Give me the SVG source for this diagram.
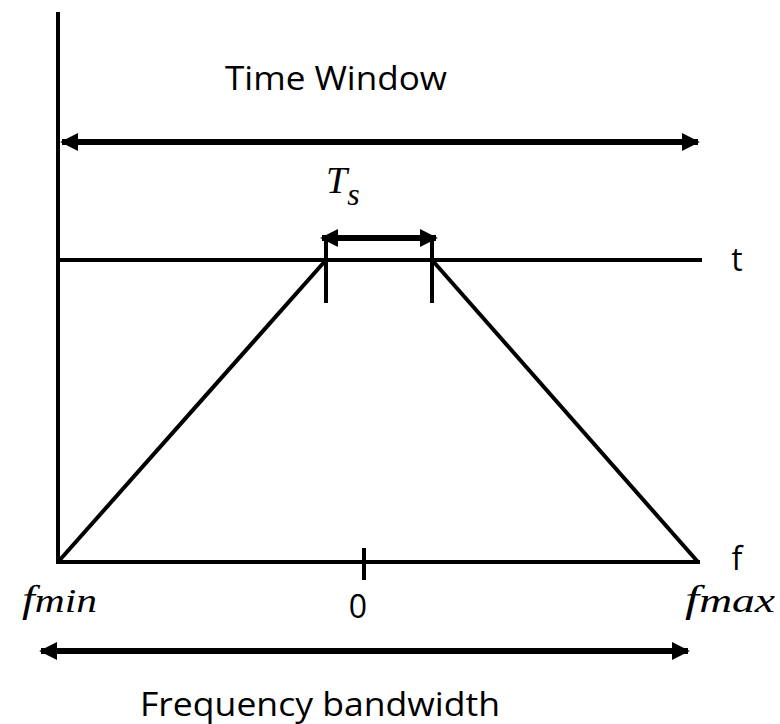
<svg xmlns="http://www.w3.org/2000/svg" width="780" height="724" viewBox="0 0 780 724">
<defs>
<marker id="ah" viewBox="0 0 10 10" refX="9" refY="5" markerWidth="3" markerHeight="3" orient="auto-start-reverse" markerUnits="strokeWidth"><path d="M0,0 L10,5 L0,10 z" fill="#000"/></marker>
</defs>
<style>
.ln{stroke:#000;stroke-width:4;fill:none}
.ar{stroke:#000;stroke-width:6;fill:none;marker-start:url(#ah);marker-end:url(#ah)}
.lbl{font-family:"Open Sans","Liberation Sans",sans-serif;font-size:32px;fill:#000}
.m{font-family:"Liberation Serif","DejaVu Serif",serif;font-style:italic;font-size:38px;fill:#000}
</style>
<g id="axes">
<line class="ln" x1="58" y1="12" x2="58" y2="564"/>
<line class="ln" x1="56" y1="562" x2="700" y2="562"/>
<line class="ln" x1="58" y1="260" x2="702" y2="260"/>
<line class="ln" x1="364" y1="548" x2="364" y2="580"/>
</g>
<g id="trapezoid">
<line class="ln" x1="58" y1="562" x2="326" y2="260"/>
<line class="ln" x1="432" y1="260" x2="698" y2="562"/>
<line class="ln" x1="326" y1="238" x2="326" y2="303"/>
<line class="ln" x1="432" y1="238" x2="432" y2="303"/>
</g>
<g id="connectors">
<line class="ar" x1="62" y1="142" x2="698" y2="142"/>
<line class="ar" x1="322" y1="238" x2="436" y2="238"/>
<line class="ar" x1="41" y1="651" x2="688" y2="651"/>
</g>
<g id="labels">
<text class="lbl" x="336" y="90" text-anchor="middle" textLength="222" lengthAdjust="spacingAndGlyphs">Time Window</text>
<text class="lbl" x="320" y="716" text-anchor="middle" textLength="360" lengthAdjust="spacingAndGlyphs">Frequency  bandwidth</text>
<text class="lbl" x="737" y="271" text-anchor="middle">t</text>
<text class="lbl" x="737" y="570" text-anchor="middle">f</text>
<text class="lbl" x="358" y="618" text-anchor="middle" font-size="36">0</text>
<text class="m" x="326" y="193" font-size="38">T<tspan font-size="32" dy="12">s</tspan></text>
<text class="m" x="22" y="612" textLength="75" lengthAdjust="spacingAndGlyphs">f<tspan font-size="34">min</tspan></text>
<text class="m" x="685" y="612" textLength="90" lengthAdjust="spacingAndGlyphs">f<tspan font-size="34">max</tspan></text>
</g>
</svg>
